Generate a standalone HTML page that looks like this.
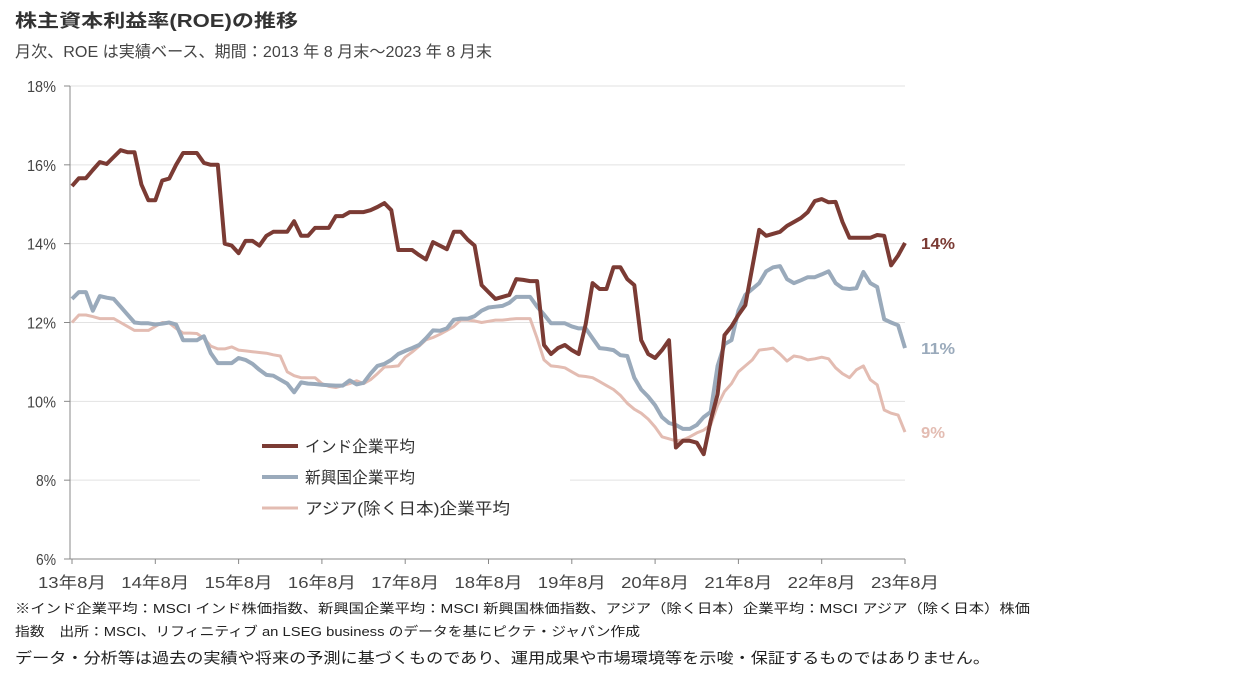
<!DOCTYPE html>
<html><head><meta charset="utf-8"><style>
html,body{margin:0;padding:0;background:#fff;}
svg{display:block;font-family:"Liberation Sans","Noto Sans CJK JP",sans-serif;}
</style></head><body>
<svg id="chart" width="1258" height="690" viewBox="0 0 1258 690">
<text x="15" y="27" font-size="18" font-weight="bold" fill="#333" textLength="283" lengthAdjust="spacingAndGlyphs">株主資本利益率(ROE)の推移</text>
<text x="15" y="57" font-size="16" fill="#444" textLength="477" lengthAdjust="spacingAndGlyphs">月次、ROE は実績ベース、期間：2013 年 8 月末～2023 年 8 月末</text>
<g id="grid"></g>
<g id="axes"></g>
<rect x="200" y="430" width="370" height="95" fill="#fff"/>
<g id="series"></g>
<g id="legend"></g>
<g id="endlabels"></g>
<text x="15" y="613" font-size="13" fill="#222" textLength="1015" lengthAdjust="spacingAndGlyphs">※インド企業平均：MSCI インド株価指数、新興国企業平均：MSCI 新興国株価指数、アジア（除く日本）企業平均：MSCI アジア（除く日本）株価</text>
<text x="15" y="636" font-size="13" fill="#222" textLength="625" lengthAdjust="spacingAndGlyphs">指数　出所：MSCI、リフィニティブ an LSEG business のデータを基にピクテ・ジャパン作成</text>
<text x="15" y="663" font-size="15" fill="#222" textLength="975" lengthAdjust="spacingAndGlyphs">データ・分析等は過去の実績や将来の予測に基づくものであり、運用成果や市場環境等を示唆・保証するものではありません。</text>
</svg>
<script>
const yTicks = [6, 8, 10, 12, 14, 16, 18];
const xTickLabels = ["13年8月","14年8月","15年8月","16年8月","17年8月","18年8月","19年8月","20年8月","21年8月","22年8月","23年8月"];
const seriesNames = ["インド企業平均","新興国企業平均","アジア(除く日本)企業平均"];
const endLabels = ["14%","11%","9%"];
const india = [15.46,15.66,15.66,15.87,16.07,16.02,16.2,16.37,16.32,16.32,15.5,15.1,15.1,15.6,15.65,16.0,16.3,16.3,16.3,16.05,16.0,16.0,14.0,13.95,13.76,14.07,14.07,13.95,14.2,14.3,14.3,14.3,14.57,14.2,14.2,14.4,14.4,14.4,14.7,14.7,14.8,14.8,14.8,14.85,14.93,15.03,14.85,13.84,13.84,13.84,13.71,13.6,14.04,13.95,13.86,14.3,14.3,14.1,13.95,12.95,12.77,12.6,12.65,12.7,13.1,13.08,13.05,13.05,11.43,11.2,11.35,11.43,11.3,11.2,11.96,13.0,12.85,12.85,13.4,13.4,13.1,12.95,11.55,11.2,11.1,11.3,11.55,8.83,9.0,9.0,8.95,8.66,9.5,10.18,11.68,11.9,12.19,12.44,13.4,14.35,14.2,14.25,14.3,14.45,14.55,14.65,14.8,15.08,15.13,15.05,15.06,14.55,14.15,14.15,14.15,14.15,14.22,14.2,13.45,13.7,14.02];
const em = [12.6,12.77,12.77,12.3,12.67,12.63,12.6,12.4,12.2,12.0,11.98,11.98,11.95,11.97,12.0,11.95,11.55,11.55,11.55,11.65,11.22,10.97,10.97,10.97,11.1,11.05,10.95,10.8,10.67,10.65,10.55,10.45,10.23,10.48,10.45,10.44,10.42,10.41,10.4,10.4,10.53,10.43,10.47,10.7,10.9,10.95,11.05,11.2,11.28,11.35,11.43,11.6,11.8,11.79,11.85,12.07,12.1,12.1,12.16,12.3,12.38,12.4,12.42,12.5,12.65,12.65,12.65,12.4,12.2,11.98,11.98,11.98,11.9,11.85,11.85,11.6,11.35,11.33,11.3,11.17,11.15,10.6,10.3,10.12,9.9,9.6,9.45,9.4,9.3,9.3,9.4,9.6,9.73,10.9,11.45,11.55,12.3,12.7,12.85,13.0,13.3,13.4,13.43,13.1,13.0,13.07,13.15,13.15,13.22,13.3,13.0,12.87,12.85,12.87,13.28,13.0,12.9,12.08,12.0,11.93,11.35];
const asia = [12.0,12.19,12.19,12.15,12.1,12.1,12.1,12.0,11.9,11.8,11.8,11.8,11.9,12.0,11.99,11.85,11.73,11.73,11.72,11.6,11.4,11.33,11.33,11.38,11.3,11.28,11.26,11.24,11.22,11.18,11.15,10.75,10.65,10.6,10.6,10.6,10.45,10.38,10.35,10.4,10.45,10.52,10.45,10.55,10.7,10.87,10.88,10.9,11.12,11.25,11.4,11.56,11.62,11.7,11.8,11.9,12.06,12.06,12.04,12.0,12.03,12.06,12.06,12.08,12.1,12.1,12.1,11.6,11.05,10.9,10.88,10.85,10.75,10.65,10.63,10.6,10.5,10.4,10.3,10.15,9.95,9.8,9.7,9.55,9.35,9.1,9.05,9.0,9.02,9.1,9.2,9.27,9.4,9.9,10.25,10.45,10.75,10.9,11.05,11.3,11.32,11.35,11.2,11.02,11.15,11.12,11.05,11.08,11.12,11.08,10.85,10.7,10.6,10.8,10.9,10.55,10.42,9.78,9.7,9.65,9.22];

const NS = "http://www.w3.org/2000/svg";
const X0 = 72, X1 = 905, Y0 = 559, Y1 = 86;
const xScale = m => X0 + (X1 - X0) * m / 120;
const yScale = v => Y0 - (Y0 - Y1) * (v - 6) / 12;
function mk(tag, attrs, parent) {
  const el = document.createElementNS(NS, tag);
  for (const k in attrs) el.setAttribute(k, attrs[k]);
  parent.appendChild(el);
  return el;
}
const grid = document.getElementById("grid");
const axes = document.getElementById("axes");
yTicks.forEach(t => {
  const y = yScale(t);
  if (t > 6) {
    const g = mk("line", {x1: 70, x2: X1, y1: y, y2: y, stroke: "#e2e2e2", "stroke-width": 1}, grid);
    
    
  }
  const tk = mk("line", {x1: 64, x2: 70, y1: y, y2: y, stroke: "#888", "stroke-width": 1}, axes);
  
  
  const tx = mk("text", {x: 56, y: y + 6, "text-anchor": "end", "font-size": 16, fill: "#444", textLength: t < 10 ? 20 : 29, lengthAdjust: "spacingAndGlyphs"}, axes);
  tx.textContent = t + "%";
  
  
});
const ya = mk("line", {x1: 70, x2: 70, y1: Y1, y2: Y0, stroke: "#888", "stroke-width": 1}, axes);


const xa = mk("line", {x1: 70, x2: X1, y1: Y0, y2: Y0, stroke: "#888", "stroke-width": 1}, axes);


xTickLabels.forEach((lab, i) => {
  const x = xScale(i * 12);
  const tk = mk("line", {x1: x, x2: x, y1: Y0, y2: Y0 + 5, stroke: "#888", "stroke-width": 1}, axes);
  
  
  const tx = mk("text", {x: x, y: 588, "text-anchor": "middle", "font-size": 16, fill: "#444", textLength: 68, lengthAdjust: "spacingAndGlyphs"}, axes);
  tx.textContent = lab;
  
  
});
const seriesData = [india, em, asia];
const colors = ["#7b3b34", "#9aaabb", "#e3bcb2"];
const widths = [4, 4, 3];
const sg = document.getElementById("series");
[2, 1, 0].forEach(i => {
  const d = seriesData[i].map((v, m) => (m ? "L" : "M") + xScale(m).toFixed(1) + "," + yScale(v).toFixed(1)).join("");
  const p = mk("path", {d: d, fill: "none", stroke: colors[i], "stroke-width": widths[i], "stroke-linejoin": "round"}, sg);
  
  
});
const lg = document.getElementById("legend");
const legY = [446, 477, 508];
const legW = [110, 110, 205];
seriesNames.forEach((n, i) => {
  const l = mk("line", {x1: 262, x2: 298, y1: legY[i], y2: legY[i], stroke: colors[i], "stroke-width": widths[i]}, lg);
  
  
  const t = mk("text", {x: 305, y: legY[i] + 6, "font-size": 16, fill: "#333", textLength: legW[i], lengthAdjust: "spacingAndGlyphs"}, lg);
  t.textContent = n;
  
  
});
const el = document.getElementById("endlabels");
seriesData.forEach((s, i) => {
  const t = mk("text", {x: 921, y: yScale(s[s.length - 1]) + 6, "font-size": 16, "font-weight": "bold", fill: colors[i], textLength: endLabels[i].length > 2 ? 34 : 24, lengthAdjust: "spacingAndGlyphs"}, el);
  t.textContent = endLabels[i];
  
  
});
</script>
</body></html>
